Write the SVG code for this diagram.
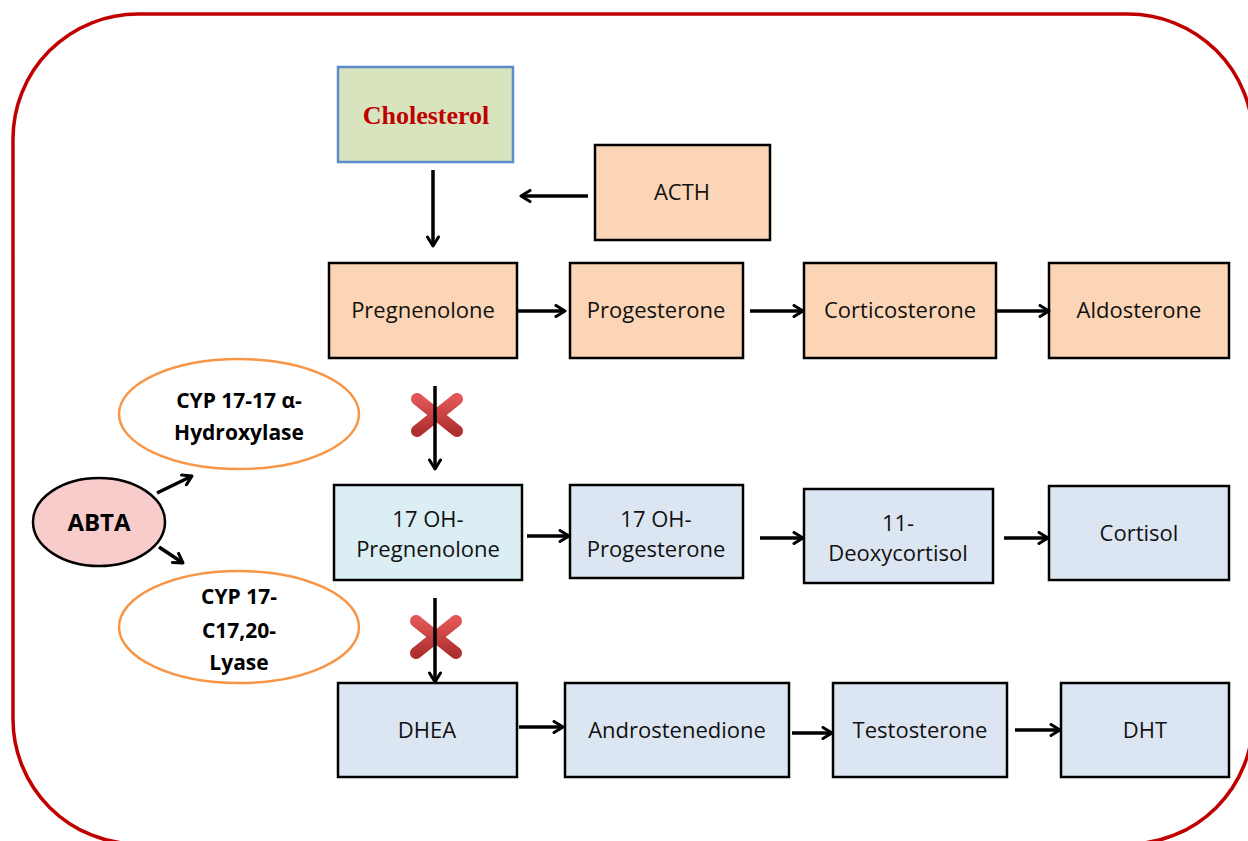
<svg xmlns="http://www.w3.org/2000/svg" width="1248" height="841" viewBox="0 0 1248 841">
<defs>
<marker id="ah" viewBox="0 0 14 14" refX="12" refY="7" markerWidth="14" markerHeight="14" markerUnits="userSpaceOnUse" orient="auto">
<path d="M3,1.5 L12,7 L3,12.5" fill="none" stroke="#000" stroke-width="3" stroke-linecap="round" stroke-linejoin="round"/>
</marker>
<linearGradient id="xg" x1="0" y1="0" x2="0" y2="1">
<stop offset="0" stop-color="#e05555"/>
<stop offset="1" stop-color="#b03030"/>
</linearGradient>
<style>
.box{stroke:#000;stroke-width:2.5}
.p{fill:#fbd5b5}
.b{fill:#dce6f2}
.c{fill:#dbeef4}
.t{font-family:"Open Sans","Liberation Sans",sans-serif;font-size:22px;fill:#111;text-anchor:middle}
.e{font-family:"Open Sans","Liberation Sans",sans-serif;font-size:21px;font-weight:bold;fill:#000;text-anchor:middle}
.ell{fill:#fff;stroke:#f79646;stroke-width:2.5}
.arr{stroke:#000;stroke-width:3.5;fill:none;marker-end:url(#ah)}
.x{stroke:url(#xg);stroke-width:12;stroke-linecap:round}
</style>
</defs>
<rect x="13" y="14" width="1240" height="830" rx="125" ry="125" fill="none" stroke="#c00000" stroke-width="3.5"/>

<g id="cholesterol">
<rect x="338" y="67" width="175" height="95" fill="#d7e4bd" stroke="#5b8ccc" stroke-width="2.5"/>
<text x="426" y="124" font-family="Liberation Serif,serif" font-size="26" font-weight="bold" fill="#c00000" text-anchor="middle">Cholesterol</text>
</g>
<g id="acth"><rect class="box p" x="595" y="145" width="175" height="95"/><text class="t" x="682" y="200">ACTH</text></g>
<g id="pregnenolone"><rect class="box p" x="329" y="263" width="188" height="95"/><text class="t" x="423" y="318">Pregnenolone</text></g>
<g id="progesterone"><rect class="box p" x="570" y="263" width="173" height="95"/><text class="t" x="656" y="318">Progesterone</text></g>
<g id="corticosterone"><rect class="box p" x="804" y="263" width="192" height="95"/><text class="t" x="900" y="318">Corticosterone</text></g>
<g id="aldosterone"><rect class="box p" x="1049" y="263" width="180" height="95"/><text class="t" x="1139" y="318">Aldosterone</text></g>

<g id="oh-pregnenolone"><rect class="box c" x="334" y="485" width="188" height="95"/><text class="t" x="428" y="527">17 OH-</text><text class="t" x="428" y="557">Pregnenolone</text></g>
<g id="oh-progesterone"><rect class="box b" x="570" y="485" width="173" height="93"/><text class="t" x="656" y="527">17 OH-</text><text class="t" x="656" y="557">Progesterone</text></g>
<g id="deoxycortisol"><rect class="box b" x="804" y="489" width="189" height="94"/><text class="t" x="898" y="531">11-</text><text class="t" x="898" y="561">Deoxycortisol</text></g>
<g id="cortisol"><rect class="box b" x="1049" y="486" width="180" height="94"/><text class="t" x="1139" y="541">Cortisol</text></g>

<g id="dhea"><rect class="box b" x="338" y="683" width="179" height="94"/><text class="t" x="427" y="738">DHEA</text></g>
<g id="androstenedione"><rect class="box b" x="565" y="683" width="224" height="94"/><text class="t" x="677" y="738">Androstenedione</text></g>
<g id="testosterone"><rect class="box b" x="833" y="683" width="174" height="94"/><text class="t" x="920" y="738">Testosterone</text></g>
<g id="dht"><rect class="box b" x="1061" y="683" width="168" height="94"/><text class="t" x="1145" y="738">DHT</text></g>

<g id="hydroxylase"><ellipse class="ell" cx="239" cy="414" rx="120" ry="55"/><text class="e" x="239" y="408">CYP 17-17 α-</text><text class="e" x="239" y="440">Hydroxylase</text></g>
<g id="lyase"><ellipse class="ell" cx="239" cy="627" rx="120" ry="56"/><text class="e" x="239" y="604">CYP 17-</text><text class="e" x="239" y="638">C17,20-</text><text class="e" x="239" y="670">Lyase</text></g>
<g id="abta"><ellipse cx="99" cy="522" rx="66" ry="44" fill="#f9cccc" stroke="#000" stroke-width="2.5"/><text x="99" y="531" font-family="Open Sans,Liberation Sans,sans-serif" font-size="24" font-weight="bold" text-anchor="middle" fill="#000">ABTA</text></g>

<g id="blocks">
<line class="x" x1="417" y1="399" x2="457" y2="431"/>
<line class="x" x1="417" y1="431" x2="457" y2="399"/>
<line class="x" x1="416" y1="621" x2="456" y2="653"/>
<line class="x" x1="416" y1="653" x2="456" y2="621"/>
</g>

<g id="connectors">
<line class="arr" x1="433" y1="170" x2="433" y2="246"/>
<line class="arr" x1="588" y1="196" x2="521" y2="196"/>
<line class="arr" x1="517" y1="311" x2="565" y2="311"/>
<line class="arr" x1="750" y1="311" x2="803" y2="311"/>
<line class="arr" x1="997" y1="311" x2="1049" y2="311"/>
<line class="arr" x1="435" y1="386" x2="435" y2="469"/>
<line class="arr" x1="435" y1="598" x2="435" y2="682"/>
<line class="arr" x1="527" y1="536" x2="569" y2="536"/>
<line class="arr" x1="760" y1="538" x2="803" y2="538"/>
<line class="arr" x1="1004" y1="538" x2="1048" y2="538"/>
<line class="arr" x1="519" y1="727" x2="563" y2="727"/>
<line class="arr" x1="792" y1="733" x2="832" y2="733"/>
<line class="arr" x1="1015" y1="730" x2="1060" y2="730"/>
<line class="arr" x1="157" y1="493" x2="192" y2="476"/>
<line class="arr" x1="159" y1="547" x2="183" y2="563"/>
</g>
</svg>
